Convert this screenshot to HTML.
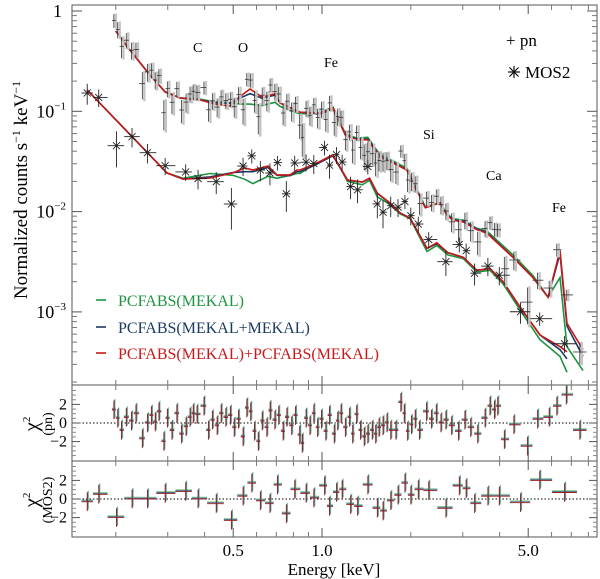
<!DOCTYPE html>
<html><head><meta charset="utf-8"><style>
html,body{margin:0;padding:0;background:#fff;}
svg{display:block;font-family:"Liberation Serif",serif;}
</style></head><body>
<svg id="chart" width="600" height="579" viewBox="0 0 600 579" xmlns="http://www.w3.org/2000/svg">
<g id="frames"></g>
<g id="models"></g>
<g id="points"></g>
<g id="resid"></g>
<g id="ticks"></g>
<g font-size="14">
<text x="193" y="52">C</text>
<text x="238" y="52">O</text>
<text x="324" y="67">Fe</text>
<text x="423" y="139">Si</text>
<text x="486" y="180">Ca</text>
<text x="552" y="212">Fe</text>
</g>
<g font-size="17">
<text x="506" y="46">+ pn</text>
<g stroke="#111" stroke-width="1.2">
<line x1="508" y1="72" x2="520" y2="72"/><line x1="514" y1="66" x2="514" y2="78"/><line x1="509.5" y1="67.5" x2="518.5" y2="76.5"/><line x1="509.5" y1="76.5" x2="518.5" y2="67.5"/>
</g>
<text x="525" y="78">MOS2</text>
</g>
<g font-size="16">
<line x1="96" y1="300" x2="106" y2="300" stroke="#1e9440" stroke-width="1.6"/>
<text x="118" y="306" fill="#1e9440">PCFABS(MEKAL)</text>
<line x1="96" y1="327" x2="106" y2="327" stroke="#1b3a63" stroke-width="1.6"/>
<text x="118" y="333" fill="#1b3a63">PCFABS(MEKAL+MEKAL)</text>
<line x1="96" y1="353" x2="106" y2="353" stroke="#c81818" stroke-width="1.6"/>
<text x="118" y="359" fill="#c81818">PCFABS(MEKAL)+PCFABS(MEKAL)</text>
</g>
<text transform="translate(27,190) rotate(-90)" text-anchor="middle" font-size="19">Normalized counts s<tspan font-size="12" dy="-7">−1</tspan><tspan dy="7"> keV</tspan><tspan font-size="12" dy="-7">−1</tspan></text>
<g font-size="21">
<text transform="translate(38,424) rotate(-90)" text-anchor="middle">χ<tspan font-size="11" dy="-8">2</tspan></text>
<text transform="translate(52,424) rotate(-90)" text-anchor="middle" font-size="14">(pn)</text>
</g>
<g font-size="21">
<text transform="translate(38,500) rotate(-90)" text-anchor="middle">χ<tspan font-size="11" dy="-8">2</tspan></text>
<text transform="translate(52,500) rotate(-90)" text-anchor="middle" font-size="14">(MOS2)</text>
</g>
<text x="334" y="575" text-anchor="middle" font-size="17">Energy [keV]</text>
</svg>
<script>
// ---- data ----
const pnModelE = [0.200,0.223,0.261,0.294,0.330,0.386,0.434,0.488,0.527,0.570,0.626,0.693,0.721,0.842,0.985,1.09,1.20,1.31,1.43,1.57,1.74,1.94,2.24,2.51,2.65,2.78,3.01,3.35,3.62,4.44,5.19,5.84,6.41,6.77,7.67];
const pnRed   = [0.63,0.41,0.23,0.156,0.136,0.130,0.118,0.113,0.140,0.167,0.139,0.149,0.121,0.098,0.096,0.108,0.058,0.052,0.052,0.035,0.0305,0.026,0.0109,0.0122,0.0092,0.0082,0.0079,0.0066,0.0061,0.0035,0.0022,0.0014,0.0041,0.00077,0.00042];
const pnBlue  = [0.63,0.41,0.23,0.156,0.136,0.130,0.122,0.120,0.135,0.150,0.135,0.145,0.121,0.098,0.094,0.106,0.058,0.053,0.053,0.036,0.031,0.026,0.0110,0.0122,0.0093,0.0083,0.0080,0.0067,0.0062,0.0035,0.0022,0.0014,0.0038,0.00072,0.00036];
const pnGreen = [0.63,0.41,0.23,0.156,0.136,0.132,0.124,0.122,0.118,0.118,0.114,0.123,0.112,0.094,0.097,0.110,0.060,0.054,0.055,0.037,0.032,0.027,0.0112,0.0122,0.0095,0.0085,0.0082,0.0068,0.0064,0.0037,0.0023,0.0014,0.0022,0.00045,0.00026];
const mosModelE = [0.160,0.298,0.338,0.417,0.499,0.548,0.583,0.656,0.704,0.779,0.823,0.842,0.932,1.09,1.22,1.37,1.45,1.54,1.70,1.84,1.99,2.27,2.45,2.67,3.01,3.35,3.71,4.11,4.69,5.48,6.41,6.77];
const mosRed   = [0.163,0.0243,0.0211,0.0216,0.0243,0.0272,0.026,0.0285,0.0232,0.0232,0.026,0.026,0.0292,0.0367,0.0207,0.0197,0.0216,0.0153,0.0122,0.0097,0.0086,0.0043,0.0049,0.0039,0.0035,0.0026,0.0027,0.0020,0.00112,0.00059,0.00045,0.0004];
const mosBlue  = [0.163,0.0243,0.0211,0.0222,0.0245,0.0250,0.025,0.0275,0.0230,0.0228,0.025,0.025,0.0285,0.0360,0.0205,0.0197,0.0214,0.0152,0.0121,0.0097,0.0086,0.0043,0.0048,0.0039,0.0035,0.0026,0.0027,0.0020,0.00112,0.00059,0.00042,0.00034];
const mosGreen = [0.163,0.0243,0.0215,0.0240,0.0230,0.0210,0.019,0.0225,0.0215,0.0230,0.024,0.024,0.0290,0.0370,0.0200,0.0185,0.0205,0.0140,0.0118,0.0095,0.0085,0.0040,0.0046,0.0037,0.0034,0.0025,0.0026,0.0019,0.00105,0.00053,0.00036,0.00025];
const pnResE = [0.197,0.203,0.209,0.217,0.226,0.234,0.246,0.256,0.264,0.272,0.280,0.291,0.299,0.310,0.322,0.334,0.346,0.357,0.366,0.377,0.398,0.412,0.425,0.441,0.455,0.472,0.489,0.504,0.521,0.540,0.556,0.573,0.590,0.608,0.627,0.650,0.667,0.692,0.713,0.738,0.760,0.789,0.813,0.840,0.857,0.883,0.910,0.938,0.966,0.996,1.03,1.06,1.10,1.13,1.16,1.20,1.24,1.27,1.31,1.35,1.39,1.43,1.48,1.52,1.56,1.61,1.66,1.71,1.78,1.85,1.90,1.95,2.01,2.07,2.14,2.26,2.35,2.44,2.53,2.63,2.75,2.90,3.05,3.19,3.37,3.57,3.71,3.84,3.94,4.15,4.47,4.97,5.38,5.89,6.25,6.73,7.48];
const pnResV = [1.4,0.5,-0.8,0.6,0.2,1.0,-1.7,0.0,0.8,0.1,1.2,-2.0,0.5,-0.8,1.0,-1.2,-0.4,0.6,1.0,0.9,1.8,-0.8,0.3,-0.3,1.0,0.6,0.8,-0.5,0.4,-1.5,1.6,1.2,-0.9,-2.0,0.2,-0.5,1.3,0.3,0.8,-0.9,0.6,-0.3,0.8,-1.3,-2.2,0.5,-0.3,1.0,-0.5,0.4,-0.9,0.8,-1.2,0.2,1.0,-0.5,0.6,-1.2,0.9,-0.8,-1.5,-1.2,-0.8,-1.2,-0.5,-0.3,0.0,-0.8,-0.8,2.2,1.0,-0.9,-0.2,0.4,-0.8,1.2,0.4,1.0,0.0,0.3,-0.3,-0.9,0.3,-0.5,-1.2,0.5,1.8,1.4,1.8,-1.8,-0.2,-2.5,0.4,0.6,1.8,3.0,-0.8];
const mosResE = [0.160,0.175,0.201,0.227,0.256,0.294,0.345,0.380,0.438,0.493,0.540,0.578,0.618,0.666,0.706,0.757,0.808,0.883,0.938,1.02,1.06,1.12,1.17,1.25,1.32,1.43,1.54,1.61,1.71,1.81,1.91,2.00,2.12,2.30,2.63,2.92,3.08,3.29,3.65,3.99,4.71,5.47,6.64];
const mosResV = [-0.3,0.5,-2.0,0.0,0.0,0.6,0.8,0.0,-0.5,-2.3,0.3,1.7,-0.2,-0.5,1.5,-1.6,1.0,0.6,0.1,1.4,-0.8,0.7,1.0,-0.6,-0.8,1.5,-1.0,-1.3,-0.2,0.4,1.7,0.4,1.0,0.9,-1.0,1.4,1.1,-0.5,0.3,0.3,-0.4,2.0,0.7];
const xMajorTicks = [0.5,1.0,5.0];
const xTickLabels = ["0.5","1.0","5.0"];
const xMinorTicks = [0.2,0.3,0.4,0.6,0.7,0.8,0.9,2,3,4,6,7,8];
const yDecades = [1,0.1,0.01,0.001];
const yDecadeLabels = ["1","10","10","10"];
const yDecadeExp = ["","−1","−2","−3"];
const resTicks = [-2,0,2];
const pnRelErr = 0.2, mosRelErr = 0.22;

// ---- axes ----
const L=72, R=597, T=5, B1=385, B2=461, B3=537;
const X0=322, XD=295;
function xs(e){return X0+Math.log10(e)*XD;}
function ys(v){return 11-Math.log10(v)*100.3;}
function yp(r){return 423-r*9.3;}
function ym(r){return 499-r*9.3;}
const NS="http://www.w3.org/2000/svg";
function mk(tag,attrs,parent){const el=document.createElementNS(NS,tag);for(const k in attrs)el.setAttribute(k,attrs[k]);parent.appendChild(el);return el;}
function interp(E,arrE,arrV){
  if(E<=arrE[0])return arrV[0];
  for(let i=1;i<arrE.length;i++){if(E<=arrE[i]){const t=(Math.log(E)-Math.log(arrE[i-1]))/(Math.log(arrE[i])-Math.log(arrE[i-1]));return Math.exp(Math.log(arrV[i-1])+t*(Math.log(arrV[i])-Math.log(arrV[i-1])));}}
  return arrV[arrV.length-1];
}
const frames=document.getElementById('frames');
[[T,B1,'main-panel-frame'],[B1,B2,'pn-residual-frame'],[B2,B3,'mos2-residual-frame']].forEach(p=>{
  const r=mk('rect',{x:L,y:p[0],width:R-L,height:p[1]-p[0],fill:'none',stroke:'#555','stroke-width':1},frames);
  
  
});
[[yp,'pn-zero-line'],[ym,'mos2-zero-line']].forEach(p=>{
  const l=mk('line',{x1:L,x2:R,y1:p[0](0),y2:p[0](0),stroke:'#000','stroke-width':1,'stroke-dasharray':'1.5,2'},frames);
  
  
});
// ticks
const tk=document.getElementById('ticks');
[[T,B1],[B1,B2],[B2,B3]].forEach(p=>{
  xMajorTicks.forEach(e=>{const x=xs(e);mk('line',{x1:x,x2:x,y1:p[0],y2:p[0]+9,stroke:'#555'},tk);mk('line',{x1:x,x2:x,y1:p[1],y2:p[1]-9,stroke:'#555'},tk);});
  xMinorTicks.forEach(e=>{const x=xs(e);mk('line',{x1:x,x2:x,y1:p[0],y2:p[0]+5,stroke:'#777'},tk);mk('line',{x1:x,x2:x,y1:p[1],y2:p[1]-5,stroke:'#777'},tk);});
});
xMajorTicks.forEach((e,i)=>{
  const t=mk('text',{x:xs(e),y:556,'text-anchor':'middle','font-size':17},tk);
  t.textContent=xTickLabels[i];
  
  
});
yDecades.forEach((d,i)=>{
  const y=ys(d);
  mk('line',{x1:L,x2:L+10,y1:y,y2:y,stroke:'#555'},tk);
  mk('line',{x1:R,x2:R-10,y1:y,y2:y,stroke:'#555'},tk);
  const t=mk('text',{x:i===0?62:66,y:y+6,'text-anchor':'end','font-size':18},tk);
  t.textContent=yDecadeLabels[i];
  
  
  if(yDecadeExp[i]){const s=mk('tspan',{'font-size':11,dy:-8},t);s.textContent=yDecadeExp[i];}
});
for(let d=-4;d<=0;d++){for(let m=2;m<=9;m++){const v=Math.pow(10,d)*m;const y=ys(v);if(y<T||y>B1)continue;
  mk('line',{x1:L,x2:L+5,y1:y,y2:y,stroke:'#777'},tk);mk('line',{x1:R,x2:R-5,y1:y,y2:y,stroke:'#777'},tk);}}
[[yp,'pn'],[ym,'mos']].forEach(p=>{
  resTicks.forEach(r=>{const y=p[0](r);mk('line',{x1:L,x2:L+8,y1:y,y2:y,stroke:'#555'},tk);mk('line',{x1:R,x2:R-8,y1:y,y2:y,stroke:'#555'},tk);
    const t=mk('text',{x:67,y:y+5,'text-anchor':'end','font-size':16},tk);t.textContent=r<0?'−'+(-r):String(r);
    
    });
  for(let r=-3.5;r<=3.5;r+=0.5){if(resTicks.includes(r))continue;const y=p[0](r);mk('line',{x1:L,x2:L+4,y1:y,y2:y,stroke:'#888'},tk);mk('line',{x1:R,x2:R-4,y1:y,y2:y,stroke:'#888'},tk);}
});
// models
const mg=document.getElementById('models');
function curve(E,V,col,name){
  const d=E.map((e,i)=>(i?'L':'M')+xs(e).toFixed(1)+','+ys(V[i]).toFixed(1)).join(' ');
  const p=mk('path',{d:d,fill:'none',stroke:col,'stroke-width':1.6},mg);
  
  
}
// data points (drawn first so models are on top)
const pg=document.getElementById('points');
function halfW(E,i){const a=i>0?E[i-1]:E[i]*E[i]/E[i+1];const b=i<E.length-1?E[i+1]:E[i]*E[i]/E[i-1];return [Math.sqrt(a*E[i]),Math.sqrt(b*E[i])];}
pnResE.forEach((e,i)=>{
  const m=interp(e,pnModelE,pnRed);const err=m*pnRelErr;const v=Math.max(m+pnResV[i]*err,m*0.3);
  const hw=halfW(pnResE,i);
  const g=mk('g',{},pg);
  
  
  mk('line',{x1:xs(e)+2,x2:xs(e)+2,y1:ys(v+err*1.1),y2:ys(Math.max(v-err*1.1,v*0.3)),stroke:'#c4c4c4','stroke-width':2.4},g);
  mk('line',{x1:xs(e),x2:xs(e),y1:ys(v+err),y2:ys(Math.max(v-err,v*0.3)),stroke:'#333','stroke-width':0.8},g);
  mk('line',{x1:xs(hw[0]),x2:xs(hw[1]),y1:ys(v),y2:ys(v),stroke:'#333','stroke-width':0.8},g);
});
mosResE.forEach((e,i)=>{
  const m=interp(e,mosModelE,mosRed);const err=m*mosRelErr;const v=m+mosResV[i]*err;
  const hw=halfW(mosResE,i);
  const g=mk('g',{},pg);
  
  
  const x=xs(e),y=ys(v);
  mk('line',{x1:x,x2:x,y1:ys(v+err),y2:ys(v-err),stroke:'#222','stroke-width':0.9},g);
  mk('line',{x1:xs(hw[0]),x2:xs(hw[1]),y1:y,y2:y,stroke:'#222','stroke-width':0.9},g);
  mk('line',{x1:x-3.5,x2:x+3.5,y1:y-3.5,y2:y+3.5,stroke:'#222','stroke-width':0.9},g);
  mk('line',{x1:x-3.5,x2:x+3.5,y1:y+3.5,y2:y-3.5,stroke:'#222','stroke-width':0.9},g);
});
curve(pnModelE,pnGreen,'#1e9440','pn-model-green');
curve(pnModelE,pnBlue,'#1b3a63','pn-model-blue');
curve(pnModelE,pnRed,'#c81818','pn-model-red');
curve(mosModelE,mosGreen,'#1e9440','mos2-model-green');
curve(mosModelE,mosBlue,'#1b3a63','mos2-model-blue');
curve(mosModelE,mosRed,'#c81818','mos2-model-red');
// residuals
const rg=document.getElementById('resid');
function resid(E,V,yf,name,bar){
  E.forEach((e,i)=>{
    const hw=halfW(E,i);const x=xs(e);
    const g=mk('g',{},rg);
    
    
    [['#7fcf95',1.2,0.2],['#4a6a90',0.6,0.1],['#9a1e1e',0,0]].forEach(c=>{
      const y=yf(V[i]+c[2]);
      mk('line',{x1:x+c[1],x2:x+c[1],y1:y-bar,y2:y+bar,stroke:c[0],'stroke-width':0.9},g);
      mk('line',{x1:xs(hw[0]),x2:xs(hw[1]),y1:y,y2:y,stroke:c[0],'stroke-width':0.9},g);
    });
  });
}
resid(pnResE,pnResV,yp,'pn-residual',9.3);
resid(mosResE,mosResV,ym,'mos2-residual',9.3);
</script>
</body></html>
